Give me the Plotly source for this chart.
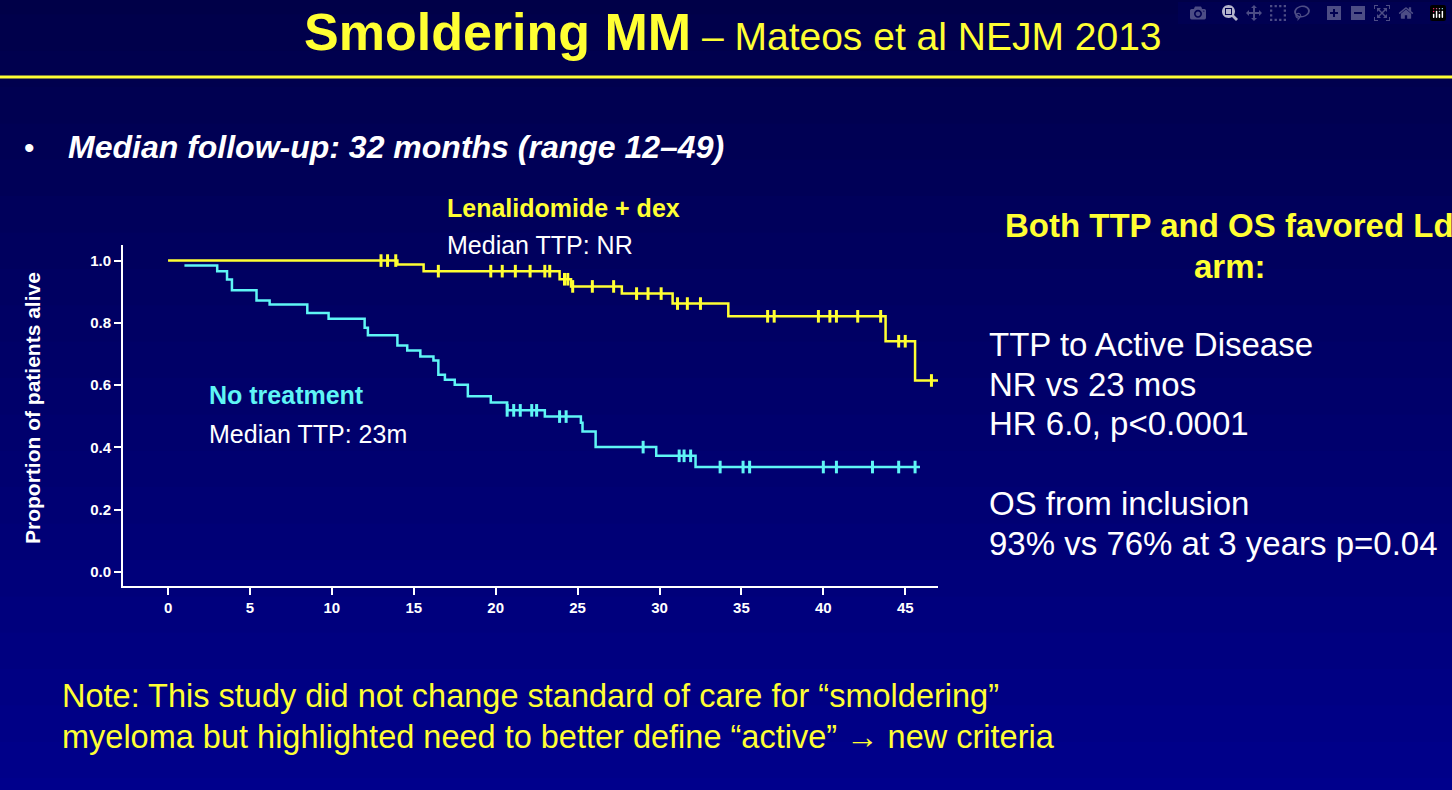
import plotly.graph_objects as go
import numpy as np

# Lenalidomide + dex: step times and values
ld_t = [0, 14.0, 15.6, 23.9, 24.6, 27.7, 30.8, 34.2, 43.8, 45.6, 47.0]
ld_v = [1.0, 0.987, 0.966, 0.94, 0.917, 0.894, 0.862, 0.821, 0.741, 0.615, 0.615]
ld_c = [13.0, 13.4, 13.9, 16.5, 19.7, 20.4, 21.2, 22.1, 23.0, 23.3, 24.2, 24.4, 24.7,
        25.9, 27.2, 28.6, 29.3, 30.1, 31.1, 31.7, 32.5, 36.6, 37.0, 39.7, 40.4, 40.8,
        42.1, 43.5, 44.6, 45.0, 46.6]
# No treatment
nt_t = [1.0, 3.0, 3.6, 3.9, 5.4, 6.2, 8.5, 9.8, 12.0, 12.2, 14.0, 14.6, 15.4, 16.2, 16.5,
        16.9, 17.5, 18.3, 19.7, 20.7, 23.0, 25.2, 25.3, 26.1, 29.8, 32.2, 45.9]
nt_v = [0.984, 0.966, 0.939, 0.905, 0.872, 0.859, 0.832, 0.813, 0.784, 0.760, 0.727, 0.711,
        0.692, 0.679, 0.633, 0.617, 0.601, 0.564, 0.544, 0.519, 0.499, 0.479, 0.451, 0.401,
        0.373, 0.337, 0.337]
nt_c = [20.7, 21.1, 21.5, 22.2, 22.5, 23.9, 24.3, 29.0, 31.2, 31.5, 31.9, 33.7, 35.1, 35.5,
        40.0, 40.8, 43.0, 44.6, 45.6]
x_ticks = [0, 5, 10, 15, 20, 25, 30, 35, 40, 45]
y_ticks = [0.0, 0.2, 0.4, 0.6, 0.8, 1.0]

def at(ts, vs, c):
    i = np.searchsorted(ts, c, side='right') - 1
    return vs[max(i, 0)]

YEL = "#ffff33"
CYN = "#5ff5f5"
fig = go.Figure()
fig.add_trace(go.Scatter(x=ld_t, y=ld_v, mode="lines", line=dict(shape="hv", color=YEL, width=2.5), hoverinfo="skip"))
fig.add_trace(go.Scatter(x=ld_c, y=[at(ld_t, ld_v, c) for c in ld_c], mode="markers",
                         marker=dict(symbol="line-ns", size=9, line=dict(color=YEL, width=3)), hoverinfo="skip"))
fig.add_trace(go.Scatter(x=nt_t, y=nt_v, mode="lines", line=dict(shape="hv", color=CYN, width=2.5), hoverinfo="skip"))
fig.add_trace(go.Scatter(x=nt_c, y=[at(nt_t, nt_v, c) for c in nt_c], mode="markers",
                         marker=dict(symbol="line-ns", size=9, line=dict(color=CYN, width=3)), hoverinfo="skip"))

shapes = []
n = 30
for i in range(n):
    f = i / (n - 1)
    b = int(60 + f * (150 - 60))
    shapes.append(dict(type="rect", xref="paper", yref="paper", layer="below", line=dict(width=0),
                       x0=-1, x1=3, y0=2.2 - (i + 1) * (3.2 / n), y1=2.2 - i * (3.2 / n) + 0.01,
                       fillcolor=f"rgb(0,0,{b})"))
shapes.append(dict(type="line", xref="paper", yref="paper", x0=-1, x1=3,
                   y0=(586 - 77) / 341, y1=(586 - 77) / 341, line=dict(color=YEL, width=3)))

W, H = 1452, 790
def px(x, y):
    return dict(xref="paper", yref="paper", x=(x - 123) / (938 - 123), y=(586 - y) / (586 - 245))

ann = []
F = "Liberation Sans, Arial, sans-serif"
def T(x, y, text, size, color="white", xa="left", bold=False, italic=False, ya="middle"):
    t = text
    if bold: t = f"<b>{t}</b>"
    if italic: t = f"<i>{t}</i>"
    d = px(x, y)
    ann.append(dict(**d, text=t, showarrow=False, xanchor=xa, yanchor=ya,
                    font=dict(family=F, size=size, color=color)))

T(733, 32, "<b><span style='font-size:52px'>Smoldering MM</span></b> – Mateos et al NEJM 2013", 39, YEL, xa="center")
T(22, 147, "•", 30)
T(66, 147, "Median follow-up: 32 months (range 12–49)", 32, bold=True, italic=True)
T(445, 208, "Lenalidomide + dex", 25, YEL, bold=True)
T(445, 245, "Median TTP: NR", 25)
T(207, 395, "No treatment", 25, CYN, bold=True)
T(207, 434, "Median TTP: 23m", 25)
T(1003, 225, "Both TTP and OS favored Ld", 33, YEL, bold=True)
T(1230, 266, "arm:", 33, YEL, xa="center", bold=True)
for y, s in [(344, "TTP to Active Disease"), (384, "NR vs 23 mos"), (423, "HR 6.0, p<0.0001"),
             (503, "OS from inclusion"), (543, "93% vs 76% at 3 years p=0.04")]:
    T(987, y, s, 33)
T(60, 696, "Note: This study did not change standard of care for “smoldering”", 32.5, YEL)
T(60, 737, "myeloma but highlighted need to better define “active” → new criteria", 32.5, YEL)
T(32, 408, "Proportion of patients alive", 21, bold=True, xa="center")
ann[-1]["textangle"] = -90

fig.update_layout(
    width=W, height=H, showlegend=False,
    margin=dict(l=123, r=W - 938, t=245, b=H - 586),
    paper_bgcolor="#00005a", plot_bgcolor="rgba(0,0,0,0)",
    shapes=shapes, annotations=ann,
    xaxis=dict(range=[-2.75, 47], tickvals=x_ticks, showgrid=False, zeroline=False,
               showline=True, linecolor="white", linewidth=2, ticks="outside", tickcolor="white",
               ticklen=7, tickwidth=2, tickfont=dict(family=F, size=15, color="white", weight="bold")),
    yaxis=dict(range=[-0.045, 1.05], tickvals=y_ticks, tickformat=".1f", showgrid=False, zeroline=False,
               showline=True, linecolor="white", linewidth=2, ticks="outside", tickcolor="white",
               ticklen=7, tickwidth=2, tickfont=dict(family=F, size=15, color="white", weight="bold")),
)
fig.write_html("out.html", post_script="document.body.style.margin='0';document.body.style.overflow='hidden';")
